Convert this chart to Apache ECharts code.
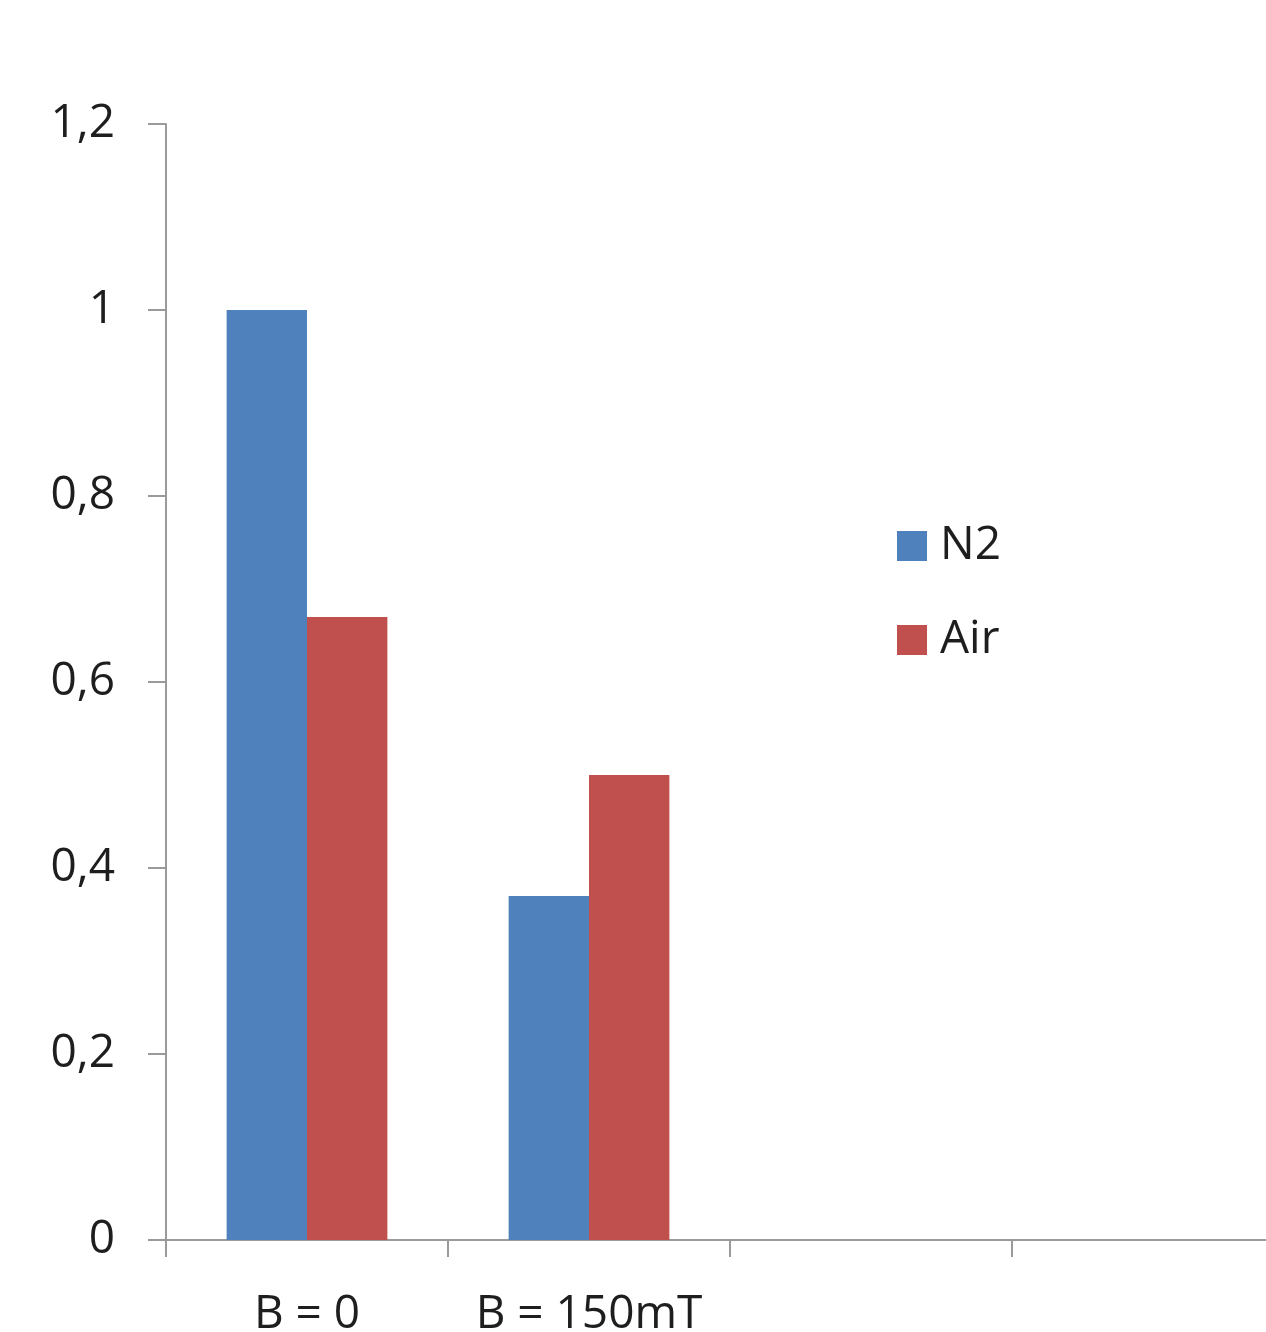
<!DOCTYPE html>
<html>
<head>
<meta charset="utf-8">
<title>N2 / Air</title>
<script src="https://cdn.jsdelivr.net/npm/echarts@6/dist/echarts.min.js"></script>
<style>
  html, body { margin: 0; padding: 0; background: #ffffff; }
  #chart { width: 1266px; height: 1332px; }
</style>
</head>
<body>
<div id="chart"></div>
<script>
// Categories along the x axis (the last two slots are empty)
const categories = ['B = 0', 'B = 150mT', '', ''];

// Series values
const n2Values = [1.0, 0.37, null, null];
const airValues = [0.67, 0.5, null, null];

// Y axis range
const yMin = 0;
const yMax = 1.2;
const yStep = 0.2;

const FONT = '"Open Sans", "Liberation Sans", sans-serif';
const TEXT_COLOR = '#1e1e1e';
const AXIS_COLOR = '#9a9a9a';

const chart = echarts.init(document.getElementById('chart'), null, { renderer: 'canvas' });

chart.setOption({
  animation: false,
  backgroundColor: '#ffffff',
  textStyle: { fontFamily: FONT },
  // plot area runs past the right edge of the canvas
  grid: {
    left: 166, top: 124, height: 1116, width: 1128,
    containLabel: false,
    outerBoundsMode: 'none'
  },
  legend: {
    orient: 'vertical',
    left: 897,
    top: 523,
    padding: 0,
    itemWidth: 30,
    itemHeight: 30,
    itemGap: 48,
    icon: 'rect',
    textStyle: { fontFamily: FONT, fontSize: 46, lineHeight: 46, color: TEXT_COLOR, padding: [0, 0, 0, 8] },
    data: ['N2', 'Air']
  },
  xAxis: {
    type: 'category',
    data: categories,
    boundaryGap: true,
    axisLine: { show: true, lineStyle: { color: AXIS_COLOR, width: 2 } },
    axisTick: { show: true, length: 17, alignWithLabel: false, lineStyle: { color: AXIS_COLOR, width: 2 } },
    axisLabel: { fontFamily: FONT, fontSize: 46, color: TEXT_COLOR, margin: 52, interval: 0 },
    splitLine: { show: false }
  },
  yAxis: {
    type: 'value',
    min: yMin,
    max: yMax,
    interval: yStep,
    axisLine: { show: true, lineStyle: { color: AXIS_COLOR, width: 2 } },
    axisTick: { show: true, length: 18, lineStyle: { color: AXIS_COLOR, width: 2 } },
    axisLabel: {
      fontFamily: FONT,
      fontSize: 46,
      color: TEXT_COLOR,
      margin: 51,
      formatter: v => String(Math.round(v * 10) / 10).replace('.', ',')
    },
    splitLine: { show: false }
  },
  series: [
    {
      name: 'N2',
      type: 'bar',
      data: n2Values,
      barGap: '0%',
      barCategoryGap: '43%',
      itemStyle: { color: '#4f81bd' }
    },
    {
      name: 'Air',
      type: 'bar',
      data: airValues,
      barGap: '0%',
      barCategoryGap: '43%',
      itemStyle: { color: '#c0504d' }
    }
  ]
});
</script>
</body>
</html>
